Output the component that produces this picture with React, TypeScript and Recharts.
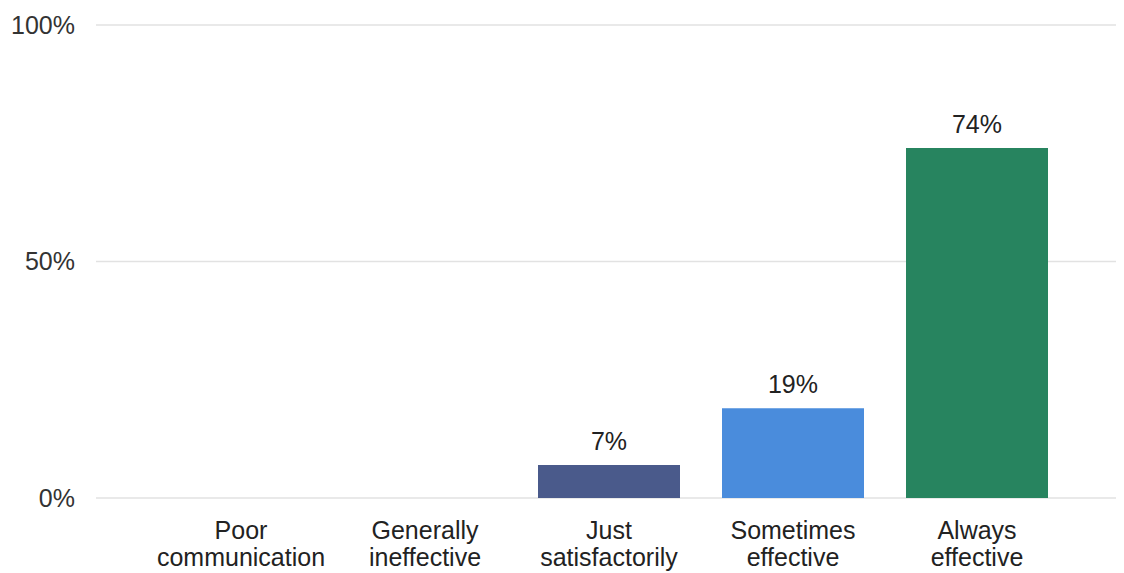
import React from "react";
import { BarChart, Bar, XAxis, YAxis, CartesianGrid, Cell, LabelList } from "recharts";

const categories = ["Poor communication", "Generally ineffective", "Just satisfactorily", "Sometimes effective", "Always effective"];
const values = [0, 0, 7, 19, 74];
const colors = ["#4a5a8b", "#4a5a8b", "#4a5a8b", "#4a8cdc", "#27845f"];
const yTicks = [0, 50, 100];

const data = categories.map((c, i) => ({ name: c, value: values[i] }));

const FONT = "'Liberation Sans', Arial, sans-serif";

const CategoryTick = (props: any) => {
  const { x, y, payload } = props;
  const text: string = payload.value;
  const idx = text.indexOf(" ");
  const lines = idx > 0 ? [text.slice(0, idx), text.slice(idx + 1)] : [text];
  return (
    <text x={x} y={y} textAnchor="middle" fill="#222" fontSize={25} fontFamily={FONT}>
      {lines.map((l, i) => (
        <tspan key={i} x={x} dy={i === 0 ? 41 : 27}>
          {l}
        </tspan>
      ))}
    </text>
  );
};

export default function App() {
  return (
    <div style={{ width: 1116, height: 565, overflow: "hidden" }}>
      <BarChart
        width={1124}
        height={565}
        data={data}
        margin={{ top: 17, right: 0, left: 0, bottom: 0 }}
        style={{ fontFamily: FONT }}
      >
        <CartesianGrid horizontal={true} vertical={false} stroke="#e2e2e2" strokeWidth={1.5} />
        <XAxis
          dataKey="name"
          axisLine={false}
          tickLine={false}
          tickSize={0}
          tickMargin={0}
          height={75}
          interval={0}
          padding={{ left: 53, right: 63 }}
          tick={<CategoryTick />}
        />
        <YAxis
          domain={[0, 100]}
          ticks={yTicks}
          width={88}
          axisLine={false}
          tickLine={false}
          tickSize={0}
          tickMargin={21}
          tickFormatter={(v: number) => `${v}%`}
          tick={{ fill: "#333", fontSize: 25, fontFamily: FONT }}
        />
        <Bar dataKey="value" barSize={142} isAnimationActive={false}>
          {data.map((d, i) => (
            <Cell key={i} fill={colors[i]} />
          ))}
          <LabelList
            dataKey="value"
            position="top"
            offset={15}
            fill="#222"
            fontSize={25}
            fontFamily={FONT}
            formatter={(v: any) => (v ? `${v}%` : "")}
          />
        </Bar>
      </BarChart>
    </div>
  );
}
